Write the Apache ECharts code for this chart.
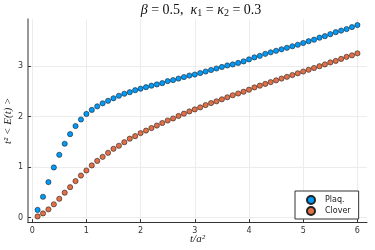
<!DOCTYPE html>
<html>
<head>
<meta charset="utf-8">
<script src="https://cdn.jsdelivr.net/npm/echarts@6/dist/echarts.min.js"></script>
<style>html,body{margin:0;padding:0;background:#fff}#c{width:375px;height:250px}</style>
</head>
<body>
<div id="c"></div>
<script>
const tValues = [0.1,0.2,0.3,0.4,0.5,0.6,0.7,0.8,0.9,1.0,1.1,1.2,1.3,1.4,1.5,1.6,1.7,1.8,1.9,2.0,2.1,2.2,2.3,2.4,2.5,2.6,2.7,2.8,2.9,3.0,3.1,3.2,3.3,3.4,3.5,3.6,3.7,3.8,3.9,4.0,4.1,4.2,4.3,4.4,4.5,4.6,4.7,4.8,4.9,5.0,5.1,5.2,5.3,5.4,5.5,5.6,5.7,5.8,5.9,6.0];
const plaq = [0.15,0.41,0.70,0.99,1.24,1.46,1.65,1.81,1.94,2.05,2.13,2.20,2.26,2.31,2.36,2.41,2.45,2.48,2.52,2.55,2.58,2.61,2.635,2.66,2.70,2.72,2.75,2.78,2.81,2.83,2.86,2.89,2.92,2.95,2.98,3.01,3.03,3.06,3.09,3.13,3.17,3.20,3.24,3.27,3.30,3.33,3.36,3.39,3.42,3.455,3.49,3.52,3.56,3.59,3.63,3.67,3.70,3.73,3.77,3.81];
const clover = [0.02,0.08,0.16,0.26,0.37,0.49,0.60,0.72,0.83,0.93,1.03,1.12,1.20,1.28,1.36,1.42,1.49,1.56,1.61,1.67,1.72,1.77,1.82,1.87,1.92,1.96,2.01,2.055,2.10,2.14,2.18,2.225,2.265,2.30,2.34,2.38,2.42,2.455,2.49,2.53,2.575,2.61,2.645,2.68,2.715,2.75,2.785,2.82,2.855,2.89,2.925,2.96,2.995,3.03,3.07,3.10,3.14,3.18,3.21,3.25];
const xTicks = [0,1,2,3,4,5,6];
const yTicks = [0,1,2,3];
const seriesNames = ['Plaq.','Clover'];
const colors = ['#009AFA','#E36F47'];

const chart = echarts.init(document.getElementById('c'), null, {renderer:'canvas'});
const mk = (arr) => tValues.map((t,i)=>[t,arr[i]]);
const axisFont = {fontFamily:'DejaVu Sans', fontSize:8, color:'#333'};
chart.setOption({
  animation:false,
  backgroundColor:'#fff',
  title:{
    text:'{i|β} = 0.5,  {i|κ}{s|1} = {i|κ}{s|2} = 0.3',
    left:196, top:-3, textAlign:'center',
    textStyle:{fontFamily:'Liberation Serif', fontSize:14, fontWeight:'normal', color:'#111',
      rich:{i:{fontFamily:'Liberation Serif', fontStyle:'italic', fontSize:14, color:'#111'},
            s:{fontFamily:'Liberation Serif', fontSize:10, color:'#111', padding:[6,0,0,0]}}}
  },
  grid:{left:28, right:8, top:19.3, bottom:250-222.2, containLabel:false, outerBoundsMode:'none'},
  legend:{
    data:seriesNames, orient:'vertical', left:295, top:191,
    itemWidth:8, itemHeight:8, itemGap:1, padding:[4,8,3,11],
    borderColor:'#333', borderWidth:1, backgroundColor:'#fff', icon:'circle',
    textStyle:{fontFamily:'DejaVu Sans', fontSize:8, color:'#222', padding:[0,0,0,5]}
  },
  xAxis:{
    type:'value', min:-0.077, max:6.177,
    name:'t/a²', nameLocation:'middle', nameGap:11, nameMoveOverlap:false,
    nameTextStyle:{fontFamily:'Liberation Serif', fontStyle:'italic', fontSize:11, color:'#222'},
    axisLine:{show:true, onZero:false, lineStyle:{color:'#333', width:1}},
    axisTick:{show:true, inside:true, length:3, customValues:xTicks, lineStyle:{color:'#333'}},
    axisLabel:{customValues:xTicks, margin:5, ...axisFont},
    splitLine:{show:true, lineStyle:{color:'#ececec', width:1}}
  },
  yAxis:{
    type:'value', min:-0.094, max:3.924,
    name:'t² < E(t) >', nameLocation:'middle', nameGap:14, nameRotate:90, nameMoveOverlap:false,
    nameTextStyle:{fontFamily:'Liberation Serif', fontStyle:'italic', fontSize:11, color:'#222'},
    axisLine:{show:true, onZero:false, lineStyle:{color:'#999', width:2}},
    axisTick:{show:true, inside:true, length:3, customValues:yTicks, lineStyle:{color:'#333'}},
    axisLabel:{customValues:yTicks, margin:5, ...axisFont},
    splitLine:{show:true, lineStyle:{color:'#ececec', width:1}}
  },
  series:[
    {name:seriesNames[0], type:'scatter', data:mk(plaq), symbol:'circle', symbolSize:5.2,
     itemStyle:{color:colors[0], opacity:1, borderColor:'#222', borderWidth:0.6}},
    {name:seriesNames[1], type:'scatter', data:mk(clover), symbol:'circle', symbolSize:5.2,
     itemStyle:{color:colors[1], opacity:1, borderColor:'#222', borderWidth:0.6}}
  ]
});
</script>
</body>
</html>
